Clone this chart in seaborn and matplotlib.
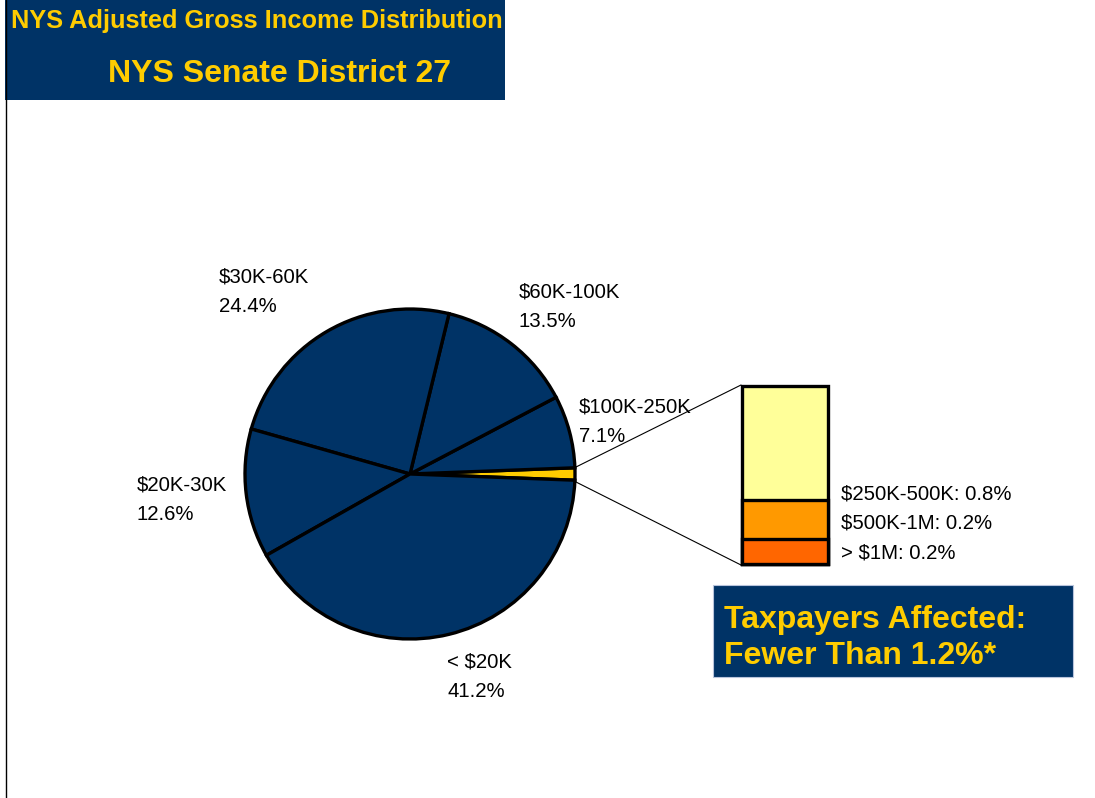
import matplotlib
matplotlib.use("Agg")
import matplotlib.pyplot as plt
import seaborn as sns
import pandas as pd
from matplotlib.patches import Rectangle

sns.set_theme(style="white")
plt.rcParams['font.family'] = ['Liberation Sans', 'DejaVu Sans']
plt.rcParams['text.parse_math'] = False

# ---- data ----
pie_labels = ['$250K+', '$100K-250K', '$60K-100K', '$30K-60K', '$20K-30K', '< $20K']
pie_values = [1.2, 7.1, 13.5, 24.4, 12.6, 41.2]
pie_pct_text = ['1.2%', '7.1%', '13.5%', '24.4%', '12.6%', '41.2%']

bar_labels = ['$250K-500K', '$500K-1M', '> $1M']
bar_pct_text = ['0.8%', '0.2%', '0.2%']
bar_heights = [0.77, 0.26, 0.17]   # drawn segment sizes (top to bottom)

title_line1 = 'NYS Adjusted Gross Income Distribution'
title_line2 = 'NYS Senate District 27'
note_lines = ['Taxpayers Affected:', 'Fewer Than 1.2%*']

NAVY = '#003366'
GOLD = '#FFCC00'
W, H = 1095, 798

fig = plt.figure(figsize=(W / 100, H / 100), dpi=100)
fig.patch.set_facecolor('white')

# overlay axes in pixel coordinates
ov = fig.add_axes([0, 0, 1, 1], zorder=0)
ov.set_xlim(0, W)
ov.set_ylim(H, 0)
ov.axis('off')

# title box
ov.add_patch(Rectangle((5, 0), 500, 100, facecolor=NAVY, edgecolor='none'))
ov.plot([5.5, 5.5], [0, H], color='black', lw=1.0)
ov.text(257, 21, title_line1, color=GOLD, fontsize=18.3, fontweight='bold',
        ha='center', va='center')
ov.text(279, 74, title_line2, color=GOLD, fontsize=23, fontweight='bold',
        ha='center', va='center')

# note box
ov.add_patch(Rectangle((713, 585), 360, 92, facecolor=NAVY, edgecolor='#b8c4dc', lw=0.8))
ov.text(724, 620, note_lines[0], color=GOLD, fontsize=23, fontweight='bold',
        ha='left', va='center')
ov.text(724, 656, note_lines[1], color=GOLD, fontsize=23, fontweight='bold',
        ha='left', va='center')

# connector lines
ov.plot([574, 741], [468, 385], color='black', lw=0.8)
ov.plot([574, 741], [481, 565], color='black', lw=0.8)

# pie labels
label_pos = {
    '$100K-250K': (579, 407),
    '$60K-100K': (519, 292),
    '$30K-60K': (219, 277),
    '$20K-30K': (137, 485),
    '< $20K': (447, 662),
}
for lab, pct in zip(pie_labels, pie_pct_text):
    if lab in label_pos:
        x, y = label_pos[lab]
        ov.text(x, y, lab, fontsize=14.7, color='black', ha='left', va='center')
        ov.text(x, y + 29.5, pct, fontsize=14.7, color='black', ha='left', va='center')

# bar labels
bar_label_y = [494, 523, 553]
for lab, pct, y in zip(bar_labels, bar_pct_text, bar_label_y):
    ov.text(841, y, f'{lab}: {pct}', fontsize=14.7, color='black', ha='left', va='center')

# pie
cx, cy, r = 410, 474, 165
pad = 1.08
side = 2 * r * pad
pax = fig.add_axes([(cx - side / 2) / W, (H - cy - side / 2) / H, side / W, side / H], zorder=2)
pie_colors = [GOLD] + [NAVY] * (len(pie_values) - 1)
pax.pie(pie_values, colors=pie_colors, startangle=-2.16, counterclock=True,
        wedgeprops=dict(edgecolor='black', linewidth=2.4))
pax.set_xlim(-pad, pad)
pax.set_ylim(-pad, pad)
pax.set_aspect('equal')
pax.axis('off')

# stacked bar (seaborn)
bax = fig.add_axes([742 / W, (H - 564) / H, 86 / W, 178 / H], zorder=2)
bar_colors = ['#FFFF99', '#FF9900', '#FF6600']
cum = []
total = 0
for h in reversed(bar_heights):
    total += h
    cum.append(total)
cum = list(reversed(cum))  # yellow top, orange top, red top
for top, col in zip(cum, bar_colors):
    df = pd.DataFrame({'g': ['x'], 'v': [top]})
    sns.barplot(data=df, x='g', y='v', color=col, width=1.0, ax=bax,
                edgecolor='black', linewidth=2.4, saturation=1)
for p in bax.patches:
    p.set_clip_on(False)
bax.set_xlim(-0.5, 0.5)
bax.set_ylim(0, sum(bar_heights))
bax.axis('off')

fig.savefig('out.png', dpi=100, facecolor='white')
